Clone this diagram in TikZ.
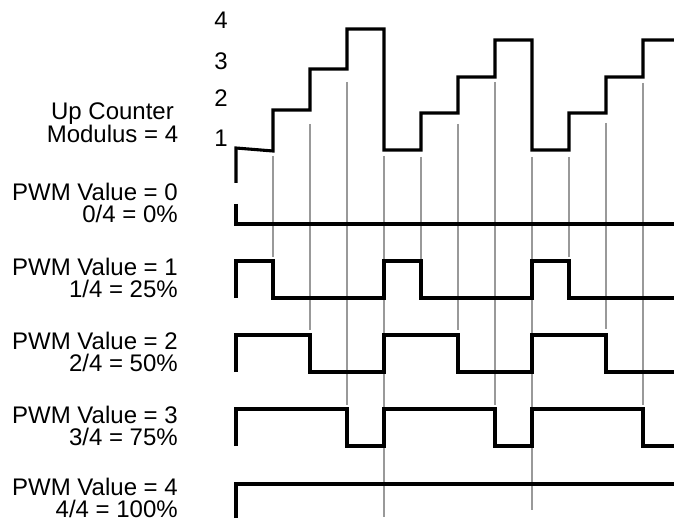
\documentclass[tikz,border=0pt]{standalone}
\usepackage{fontspec}
\setmainfont{Liberation Sans}
\begin{document}
\begin{tikzpicture}[x=1bp,y=-1bp,
  sig/.style={line width=3.1bp, line join=miter},
  tick/.style={line width=1.1bp, draw=black!40},
  lbl/.style={font=\fontsize{24bp}{24bp}\selectfont, inner sep=0pt, text depth=0pt},
  dig/.style={font=\fontsize{24bp}{24bp}\selectfont, inner sep=0pt, anchor=base}]
\useasboundingbox (0,0) rectangle (674,521);
% grey timing guides
\foreach \x/\t/\b in {273/156/257, 310/124/330, 347/82/405, 384/156/517,
  421/157/259, 458/124/330, 495/82/405, 532/157/510,
  569/157/257, 606/123/329, 643/83/405}
  \draw[tick] (\x,\t) -- (\x,\b);
% up counter
\draw[sig] (236,183) -- (236,148) -- (273,151) -- (273,110) -- (310,110) -- (310,69)
  -- (347,69) -- (347,29) -- (384,29) -- (384,150) -- (421,150) -- (421,113)
  -- (458,113) -- (458,77) -- (495,77) -- (495,40) -- (532,40) -- (532,150)
  -- (569,150) -- (569,113) -- (606,113) -- (606,77) -- (643,77) -- (643,40) -- (674,40);
% PWM 0
\draw[sig] (236,204) -- (236,224) -- (674,224);
% PWM 1
\draw[sig] (236,298) -- (236,261) -- (273,261) -- (273,298) -- (384,298) -- (384,261)
  -- (421,261) -- (421,298) -- (532,298) -- (532,261) -- (569,261) -- (569,298) -- (674,298);
% PWM 2
\draw[sig] (236,372) -- (236,335) -- (310,335) -- (310,372) -- (384,372) -- (384,335)
  -- (458,335) -- (458,372) -- (532,372) -- (532,335) -- (606,335) -- (606,372) -- (674,372);
% PWM 3
\draw[sig] (236,446) -- (236,409) -- (347,409) -- (347,446) -- (384,446) -- (384,409)
  -- (495,409) -- (495,446) -- (532,446) -- (532,409) -- (643,409) -- (643,446) -- (674,446);
% PWM 4
\draw[sig] (236,518) -- (236,484) -- (674,484);
% counter values
\node[dig] (d4) at (221,28.5) {4};
\node[dig] (d3) at (221,70) {3};
\node[dig] (d2) at (221,106.7) {2};
\node[dig] (d1) at (221,146.7) {1};
% labels
\node[lbl, anchor=base] (uc1) at (112.5,120) {Up Counter};
\node[lbl, anchor=base] (uc2) at (112.5,143) {Modulus = 4};
\foreach \k/\p/\yy in {0/0/0, 1/25/74, 2/50/148, 3/75/222, 4/100/294} {
  \node[lbl, anchor=base east] (pv\k) at (178,{201+\yy}) {PWM Value = \k};
  \node[lbl, anchor=base east] (pp\k) at (178,{223+\yy}) {\k/4 = \p\%};
}
\end{tikzpicture}
\end{document}
